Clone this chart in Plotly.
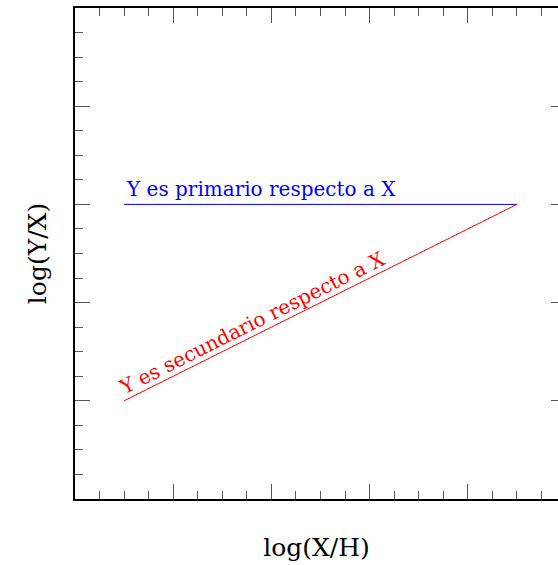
import plotly.graph_objects as go

# data (axis units: one major tick = 1 unit)
primary_x = [0.5, 4.5]
primary_y = [3.0, 3.0]
secondary_x = [0.5, 4.5]
secondary_y = [1.0, 3.0]
primary_label = "Y es primario respecto a X"
secondary_label = "Y es secundario respecto a X"
x_title = "log(X/H)"
y_title = "log(Y/X)"
major_ticks = [0, 1, 2, 3, 4, 5]

W, H = 558, 565
ML, MR, MT, MB = 75, 0, 8, 66
ppu = (H - MT - MB) / 5.0  # pixels per unit
x_max = (W - ML - MR) / ppu

FONT = "DejaVu Serif"
tick_col = "#555555"

fig = go.Figure()
fig.add_trace(go.Scatter(x=primary_x, y=primary_y, mode="lines",
                         line=dict(color="#0000ff", width=1), showlegend=False, hoverinfo="skip"))
fig.add_trace(go.Scatter(x=secondary_x, y=secondary_y, mode="lines",
                         line=dict(color="#ff0000", width=1), showlegend=False, hoverinfo="skip"))
# invisible trace to activate right-side tick axis
fig.add_trace(go.Scatter(x=[0], y=[0], yaxis="y2", mode="markers",
                         marker=dict(opacity=0), showlegend=False, hoverinfo="skip"))

fig.add_annotation(x=primary_x[0], y=3.16, xanchor="left",
                   text=primary_label, showarrow=False,
                   font=dict(family=FONT, size=20, color="#0000ff"))
fig.add_annotation(x=1.80, y=1.79, text=secondary_label, showarrow=False, textangle=-26.57,
                   font=dict(family=FONT, size=20, color="#ff0000"))

fig.update_layout(
    width=W, height=H,
    margin=dict(l=ML, r=MR, t=MT, b=MB, pad=0),
    paper_bgcolor="white", plot_bgcolor="white",
    xaxis=dict(range=[0, x_max], showgrid=False, zeroline=False,
               showline=True, linecolor="black", linewidth=2, mirror="ticks",
               ticks="inside", ticklen=15, tickwidth=1, tickcolor=tick_col,
               tickvals=major_ticks, showticklabels=False,
               minor=dict(dtick=0.25, tick0=0, ticks="inside", ticklen=8, tickwidth=1,
                          tickcolor=tick_col, showgrid=False),
               title=dict(text=x_title, font=dict(family=FONT, size=25, color="black"), standoff=38)),
    yaxis=dict(range=[0, 5], showgrid=False, zeroline=False,
               showline=True, linecolor="black", linewidth=2, mirror=False,
               ticks="inside", ticklen=15, tickwidth=1, tickcolor=tick_col,
               tickvals=major_ticks, showticklabels=False,
               minor=dict(dtick=0.25, tick0=0, ticks="inside", ticklen=8, tickwidth=1,
                          tickcolor=tick_col, showgrid=False),
               title=dict(text=y_title, font=dict(family=FONT, size=25, color="black"), standoff=19)),
    yaxis2=dict(range=[0, 5], overlaying="y", side="right", anchor="x",
                showgrid=False, zeroline=False, showline=False,
                ticks="inside", ticklen=7, tickwidth=1, tickcolor=tick_col,
                tickvals=[1, 2, 3, 4], showticklabels=False),
)

fig.write_html("out.html")
